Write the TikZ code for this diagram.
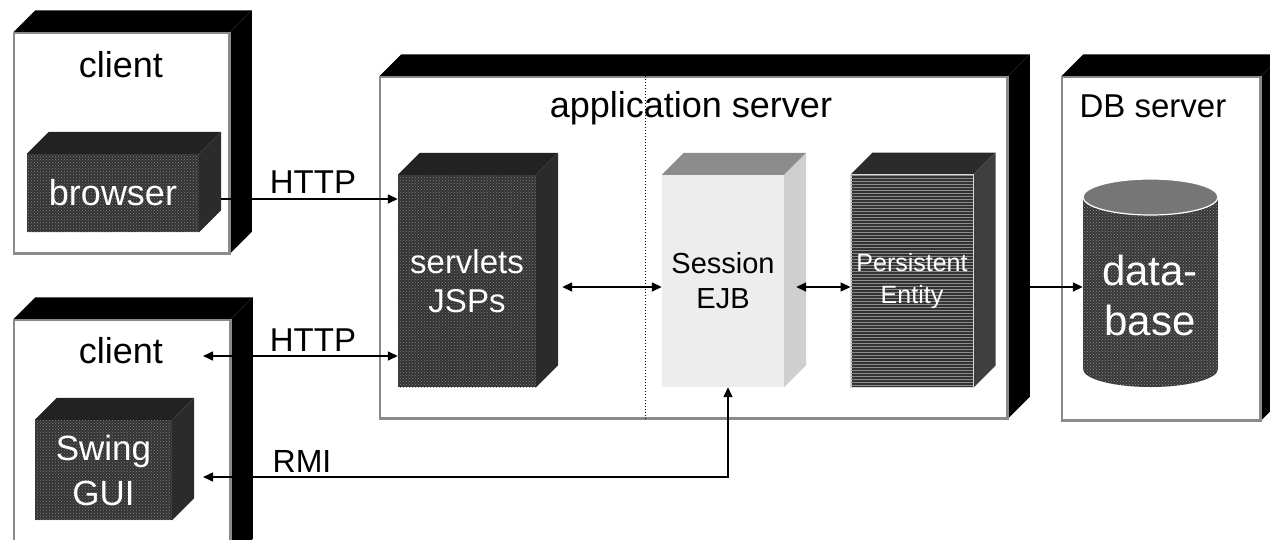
\documentclass[tikz,border=0pt]{standalone}
\usepackage{fontspec}
\setmainfont{Liberation Sans}
\usetikzlibrary{arrows.meta,calc,patterns}
\definecolor{framegray}{HTML}{8A8A8A}
\definecolor{darktop}{HTML}{222222}
\definecolor{darkside}{HTML}{2B2B2B}
\definecolor{sesstop}{HTML}{8C8C8C}
\definecolor{sessside}{HTML}{CFCFCF}
\definecolor{sessfront}{HTML}{EDEDED}
\definecolor{perstop}{HTML}{2B2B2B}
\definecolor{persside}{HTML}{3F3F3F}
\definecolor{dbtop}{HTML}{767676}
\newcommand\boxdepth[5]{%
  \fill[#3] (#1.north west) -- ++(#2,-#2) -- ($(#1.north east)+(#2,-#2)$) -- (#1.north east) -- cycle;
  \fill[#4] (#1.north east) -- ++(#2,-#2) -- ($(#1.south east)+(#2,-#2)$) -- (#1.south east) -- cycle;
  \draw[#5] (#1.north west) rectangle (#1.south east);
}
\begin{document}
\begin{tikzpicture}[x=1pt,y=-1pt,
  frame/.style={draw=framegray, line width=1.5pt, fill=white, inner sep=0pt},
  framel/.style={draw=framegray, line width=1.5pt},
  darkfront/.style={fill=black!80, postaction={pattern=crosshatch dots, pattern color=black!50}, inner sep=0pt, text=white, align=center},
  persfront/.style={fill=black!80, postaction={pattern=horizontal lines, pattern color=black!45}, draw=white!85!black, line width=1pt, inner sep=0pt, text=white, align=center},
  sessfrontst/.style={fill=sessfront, inner sep=0pt, text=black, align=center},
  dbbody/.style={fill=black!78, postaction={pattern=crosshatch dots, pattern color=black!45}},
  tip/.tip={Triangle[length=10pt,width=9pt]},
  arr/.style={line width=1.5pt, -tip},
  darr/.style={line width=1.5pt, tip-tip},
  title/.style={anchor=base, font=\fontsize{36}{42}\selectfont},
  lbl/.style={anchor=base, font=\fontsize{33}{38}\selectfont}]
\useasboundingbox (0,0) rectangle (1270,539);
\clip (0,0) rectangle (1270,539);

% client 1
\node[frame, minimum width=215pt, minimum height=220pt] (client1) at (121.5,143) {};
\boxdepth{client1}{22}{black}{black}{framel}
\node[title] (c1t) at (121,77) {client};
\node[darkfront, minimum width=172pt, minimum height=78pt, font=\fontsize{36}{40}\selectfont] (browser) at (113,193) {browser};
\boxdepth{browser}{22}{darktop}{darkside}{draw=none}

% client 2
\node[frame, minimum width=216pt, minimum height=240pt] (client2) at (122,440) {};
\boxdepth{client2}{22}{black}{black}{framel}
\node[title] (c2t) at (121,363) {client};
\node[darkfront, minimum width=137pt, minimum height=100pt, font=\fontsize{35}{45}\selectfont] (swing) at (103.5,470) {Swing\\GUI};
\boxdepth{swing}{22}{darktop}{darkside}{draw=none}

% application server
\node[frame, minimum width=627pt, minimum height=341pt] (appserver) at (693.5,247.5) {};
\boxdepth{appserver}{22}{black}{black}{framel}
\draw[dotted, line width=1pt] ([xshift=-48.5pt]appserver.north) -- ([xshift=-48.5pt]appserver.south);
\node[title] (appt) at (691,117) {application server};
\node[darkfront, minimum width=138pt, minimum height=212pt, font=\fontsize{33}{39}\selectfont] (servlets) at (467,281) {servlets\\JSPs};
\boxdepth{servlets}{22}{darktop}{darkside}{draw=none}
\node[sessfrontst, minimum width=122pt, minimum height=212pt, font=\fontsize{29}{35}\selectfont] (session) at (723,281) {Session\\EJB};
\boxdepth{session}{22}{sesstop}{sessside}{draw=none}
\node[persfront, minimum width=122pt, minimum height=212pt, font=\fontsize{25}{32}\selectfont] (persist) at (912,281) {Persistent\\Entity};
\boxdepth{persist}{22}{perstop}{persside}{draw=white!85!black, line width=1pt}

% DB server
\node[frame, minimum width=198pt, minimum height=343pt] (dbserver) at (1161,248.5) {};
\boxdepth{dbserver}{22}{black}{black}{framel}
\node[anchor=base, font=\fontsize{33}{38}\selectfont] (dbt) at (1153,117) {DB server};
\node[minimum width=135pt, minimum height=208pt, inner sep=0pt] (db) at (1150.5,283) {};
\fill[dbbody] (1083,197) rectangle (1218,369);
\fill[dbbody] (1150.5,369) ellipse [x radius=67.5, y radius=18];
\filldraw[fill=dbtop, draw=white, line width=1.2pt] (1150.5,197) ellipse [x radius=67.5, y radius=18];
\node[text=white, align=center, inner sep=0pt, font=\fontsize{42}{50}\selectfont] (dbtext) at (1150,295) {data-\\base};

% connectors
\draw[arr] ($(browser.east)+(22,6)$) coordinate (h1) -- (h1 -| servlets.west);
\coordinate (h2) at (203,356);
\draw[darr] (h2) -- (h2 -| servlets.west);
\coordinate (rmi) at (203,477);
\draw[darr] (rmi) -| ([xshift=5pt]session.south);
\draw[darr] ($(servlets.east)+(26,6)$) coordinate (s1) -- (s1 -| session.west);
\draw[darr] ($(session.east)+(12,6)$) coordinate (s2) -- (s2 -| persist.west);
\draw[arr] ($(appserver.east)+(21,39.5)$) coordinate (s3) -- (s3 -| db.west);

% labels
\node[lbl] (http1) at (313,193) {HTTP};
\node[lbl] (http2) at (313,351) {HTTP};
\node[lbl, font=\fontsize{32}{38}\selectfont] (rmil) at (302,472) {RMI};
\end{tikzpicture}
\end{document}
